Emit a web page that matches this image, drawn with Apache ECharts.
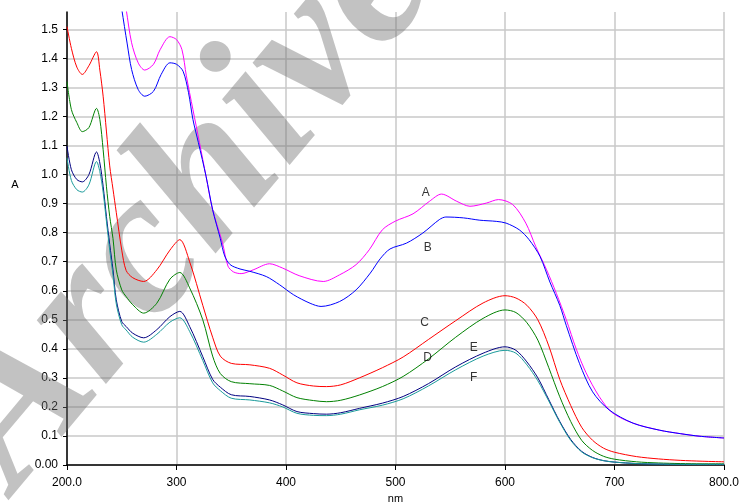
<!DOCTYPE html>
<html>
<head>
<meta charset="utf-8">
<script src="https://cdn.jsdelivr.net/npm/echarts@6/dist/echarts.min.js"></script>
<style>html,body{margin:0;padding:0;background:#fff}#c{width:740px;height:504px}</style>
</head>
<body>
<div id="c"></div>
<script>
// wavelength grid shared by curves C-F (nm)
const nmLow = [200,204,209,214,220,227,230,233,236,239,242,245,250,254,260,270,282,294,303,312,324,333,340,350,367,385,397,410,425,437,450,467,488,507,530,555,580,600,610,620,630,640,650,660,670,680,690,700,720,740,760,780,800];
const absC = [1.51,1.435,1.37,1.345,1.375,1.423,1.36,1.27,1.15,1.03,0.95,0.87,0.74,0.67,0.645,0.632,0.672,0.74,0.776,0.70,0.55,0.44,0.375,0.35,0.345,0.333,0.31,0.283,0.272,0.27,0.276,0.30,0.335,0.372,0.432,0.497,0.558,0.583,0.575,0.55,0.50,0.41,0.295,0.205,0.13,0.085,0.058,0.044,0.029,0.021,0.016,0.013,0.011];
const absD = [1.32,1.224,1.179,1.148,1.162,1.228,1.19,1.086,0.96,0.856,0.78,0.672,0.603,0.58,0.552,0.523,0.557,0.64,0.663,0.61,0.50,0.375,0.315,0.287,0.28,0.274,0.255,0.232,0.222,0.218,0.223,0.241,0.27,0.305,0.365,0.44,0.505,0.534,0.525,0.49,0.43,0.335,0.235,0.15,0.085,0.05,0.03,0.02,0.011,0.007,0.005,0.004,0.004];
const absE = [1.098,1.017,0.983,0.975,1.0,1.078,1.04,0.96,0.856,0.76,0.672,0.569,0.494,0.477,0.454,0.438,0.466,0.511,0.529,0.477,0.373,0.295,0.268,0.242,0.236,0.224,0.207,0.184,0.177,0.175,0.18,0.195,0.213,0.236,0.28,0.338,0.385,0.407,0.395,0.355,0.30,0.225,0.15,0.088,0.047,0.026,0.015,0.01,0.005,0.003,0.002,0.002,0.002];
const absF = [1.058,0.98,0.948,0.94,0.965,1.045,1.01,0.94,0.84,0.74,0.655,0.555,0.483,0.465,0.44,0.423,0.45,0.492,0.507,0.46,0.36,0.283,0.256,0.23,0.224,0.214,0.2,0.178,0.171,0.17,0.175,0.19,0.206,0.228,0.272,0.328,0.375,0.395,0.385,0.345,0.29,0.22,0.147,0.085,0.045,0.025,0.015,0.01,0.005,0.003,0.002,0.002,0.002];
// curve A
const nmA = [249,254,259,265,271,279,285,294,300,305,309,315,321,327,333,342,347,352,359,370,385,397,412,434,449,464,476,488,500,516,531,542,556,568,583,594,607,619,628,638,647,656,665,674,686,698,717,741,760,778,800];
const absA = [1.686,1.57,1.454,1.385,1.36,1.38,1.43,1.475,1.465,1.43,1.34,1.224,1.11,0.994,0.879,0.765,0.685,0.665,0.659,0.672,0.693,0.678,0.652,0.632,0.655,0.69,0.741,0.81,0.84,0.865,0.908,0.933,0.908,0.891,0.902,0.914,0.897,0.833,0.753,0.672,0.59,0.50,0.40,0.318,0.236,0.18,0.144,0.12,0.108,0.099,0.093];
// curve B
const nmB = [245,250,255,259,265,271,279,286,294,300,306,311,315,320,327,333,340,344,349,358,367,382,394,407,422,432,449,464,477,486,495,510,525,540,546,562,577,592,601,613,622,632,641,650,656,668,680,695,717,741,760,778,800];
const absB = [1.70,1.57,1.45,1.362,1.293,1.27,1.287,1.345,1.385,1.38,1.356,1.282,1.19,1.11,0.994,0.879,0.78,0.72,0.69,0.675,0.667,0.649,0.621,0.586,0.557,0.546,0.563,0.603,0.661,0.71,0.744,0.764,0.799,0.845,0.854,0.851,0.843,0.839,0.833,0.81,0.776,0.718,0.63,0.55,0.48,0.35,0.252,0.19,0.144,0.12,0.108,0.099,0.093];
// curve labels: [text, nm, absorbance]
const labelText = ['A','B','C','D','E','F'];
const labelNm = [527.6,529.4,526.6,529.4,571.4,571.4];
const labelAbs = [0.938,0.748,0.49,0.369,0.403,0.30];
const xTicks = [200,300,400,500,600,700,800];
const xTickLabels = ['200.0','300','400','500','600','700','800.0'];

const colors = {A:'#ff00ff',B:'#0000ff',C:'#ff0000',D:'#008000',E:'#000080',F:'#1a9a9a'};
function pairs(xs, ys){ return xs.map((x,i)=>[x, ys[i]]); }
function lineSeries(name, xs, ys){
  return {name, type:'line', data: pairs(xs, ys), showSymbol:false, symbol:'none', smooth:0.3,
    lineStyle:{width:1, color:colors[name]}, itemStyle:{color:colors[name]}, z:3, clip:true};
}
const chart = echarts.init(document.getElementById('c'), null, {renderer:'canvas'});
const font = '"Liberation Sans", Arial, sans-serif';
chart.setOption({
  animation:false,
  backgroundColor:'#fff',
  grid:{left:67, right:16, top:12, bottom:39, containLabel:false, outerBoundsMode:'none'},
  xAxis:{type:'value', min:200, max:800, interval:100,
    name:'nm', nameLocation:'middle', nameGap:25,
    nameTextStyle:{color:'#000', fontSize:11, fontFamily:font},
    axisLine:{show:true, onZero:false, lineStyle:{color:'#000', width:1.5}},
    axisTick:{show:true, length:5, lineStyle:{color:'#000'}},
    axisLabel:{color:'#000', fontSize:12, fontFamily:font, margin:12,
      formatter:v=>{const i=xTicks.indexOf(v); return i>=0?xTickLabels[i]:'';}},
    splitLine:{show:true, lineStyle:{color:'#c8c8c8', width:1.5}}
  },
  yAxis:{type:'value', min:0, max:1.56, interval:0.1,
    axisLine:{show:true, onZero:false, lineStyle:{color:'#000', width:1.5}},
    axisTick:{show:true, length:4, lineStyle:{color:'#000'}},
    axisLabel:{color:'#000', fontSize:12, fontFamily:font, margin:9, showMaxLabel:false,
      formatter:v=> v>1.505 ? '' : (v===0 ? '0.00' : v.toFixed(1))},
    splitLine:{show:true, showMaxLine:false, lineStyle:{color:'#c8c8c8', width:1.5}}
  },
  graphic:[
    {type:'text', x:187, y:205, rotation:50*Math.PI/180, z:1, silent:true,
      style:{text:'Archive', fill:'rgba(110,110,110,0.42)', fontSize:205, fontStyle:'italic', fontWeight:'bold',
        fontFamily:'"Liberation Serif", "Times New Roman", serif', align:'center', verticalAlign:'middle'}},
    {type:'text', x:15, y:185, z:5, silent:true,
      style:{text:'A', fill:'#000', fontSize:11, fontFamily:font, align:'center', verticalAlign:'middle'}}
  ],
  series:[
    lineSeries('A', nmA, absA),
    lineSeries('B', nmB, absB),
    lineSeries('C', nmLow, absC),
    lineSeries('D', nmLow, absD),
    lineSeries('E', nmLow, absE),
    lineSeries('F', nmLow, absF),
    {type:'scatter', name:'labels', z:4, symbolSize:1, itemStyle:{color:'rgba(0,0,0,0)'},
      data: labelText.map((t,i)=>({name:t, value:[labelNm[i], labelAbs[i]]})),
      label:{show:true, position:'inside', formatter:p=>p.name, color:'#000', fontSize:12, fontFamily:font}}
  ]
});
</script>
</body>
</html>
